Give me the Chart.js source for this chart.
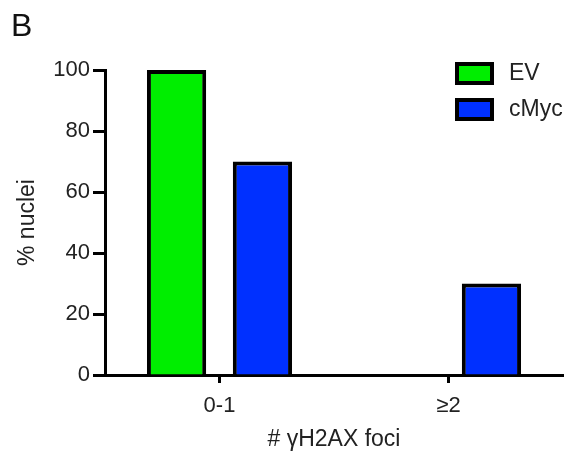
<!DOCTYPE html>
<html>
<head>
<meta charset="utf-8">
<script src="https://cdn.jsdelivr.net/npm/chart.js@4/dist/chart.umd.min.js"></script>
<style>
  html, body { margin: 0; padding: 0; background: #fff; }
  #wrap { width: 568px; height: 453px; position: relative; }
</style>
</head>
<body>
<div id="wrap"><canvas id="chart"></canvas></div>
<script>
// Data
const categories = ['0-1', '≥2'];
const evValues = [100, 0];
const cmycValues = [70, 30];
const yTicks = [0, 20, 40, 60, 80, 100];

const FONT = "'Liberation Sans', Arial, Helvetica, sans-serif";

// Panel letter + legend drawn on canvas
const panelExtras = {
  id: 'panelExtras',
  afterDraw(chart) {
    const ctx = chart.ctx;
    const area = chart.chartArea;
    ctx.save();
    ctx.fillStyle = '#111';
    ctx.font = '32px ' + FONT;
    ctx.textBaseline = 'top';
    ctx.textAlign = 'left';
    ctx.fillText('B', 11, 11);

    // legend
    const boxX = area.right - 106;
    let boxY = 64;
    ctx.font = '23px ' + FONT;
    ctx.textBaseline = 'middle';
    chart.data.datasets.forEach(ds => {
      ctx.fillStyle = ds.backgroundColor;
      ctx.fillRect(boxX, boxY, 35, 19);
      ctx.lineWidth = 4;
      ctx.strokeStyle = '#000';
      ctx.strokeRect(boxX, boxY, 35, 19);
      ctx.fillStyle = '#222';
      ctx.fillText(ds.label, boxX + 52, boxY + 10);
      boxY += 36;
    });
    ctx.restore();
  }
};

new Chart(document.getElementById('chart'), {
  type: 'bar',
  data: {
    labels: categories,
    datasets: [
      { label: 'EV', data: evValues, backgroundColor: '#00ee00', borderColor: '#000', borderWidth: 4 },
      { label: 'cMyc', data: cmycValues, backgroundColor: '#0030ff', borderColor: '#000', borderWidth: 4 }
    ]
  },
  options: {
    responsive: true,
    maintainAspectRatio: false,
    animation: false,
    categoryPercentage: 0.75,
    barPercentage: 0.69,
    layout: { padding: { top: 70, right: 5, left: 0, bottom: 0 } },
    plugins: {
      legend: { display: false },
      tooltip: { enabled: false }
    },
    scales: {
      x: {
        grid: { offset: false, drawOnChartArea: false, drawTicks: true, tickLength: 8, tickWidth: 3, tickColor: '#000' },
        border: { display: true, color: '#000', width: 3 },
        ticks: { color: '#222', font: { family: FONT, size: 22 }, padding: 10 },
        title: { display: true, text: '# γH2AX foci', color: '#222', font: { family: FONT, size: 23 }, padding: { top: 0, bottom: 0 } },
        afterFit(scale) { scale.height = 78; }
      },
      y: {
        min: 0,
        max: 100,
        afterBuildTicks(scale) { scale.ticks = yTicks.map(v => ({ value: v })); },
        grid: { drawOnChartArea: false, drawTicks: true, tickLength: 12, tickWidth: 3, tickColor: '#000' },
        border: { display: true, color: '#000', width: 3 },
        ticks: { color: '#222', font: { family: FONT, size: 22 }, padding: 3 },
        title: { display: true, text: '% nuclei', color: '#222', font: { family: FONT, size: 23 }, padding: { top: 14, bottom: 0 } },
        afterFit(scale) { scale.width = 105; }
      }
    }
  },
  plugins: [panelExtras]
});
</script>
</body>
</html>
